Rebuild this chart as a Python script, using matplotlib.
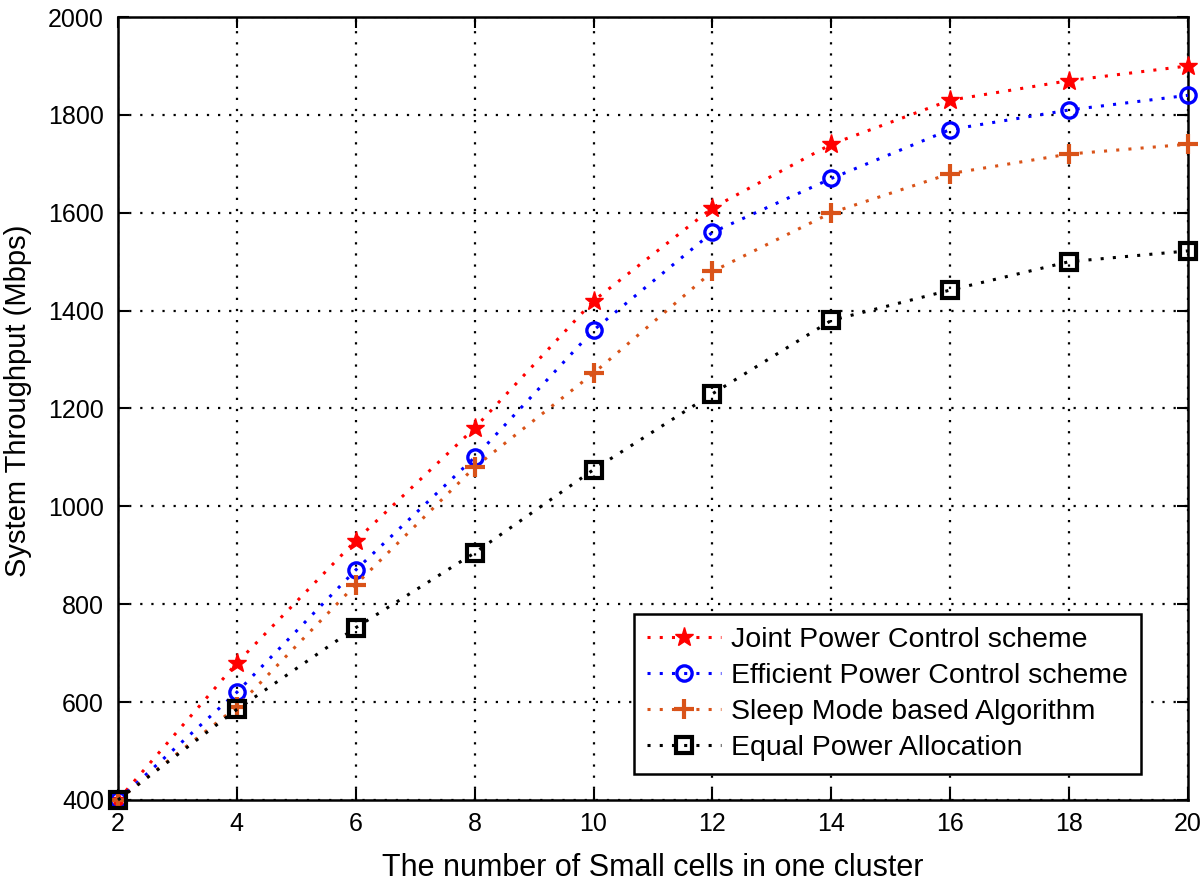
import matplotlib
matplotlib.use("Agg")
import matplotlib.pyplot as plt

x = [2, 4, 6, 8, 10, 12, 14, 16, 18, 20]
joint = [400, 680, 930, 1160, 1420, 1610, 1740, 1830, 1870, 1900]
efficient = [400, 620, 870, 1100, 1360, 1560, 1670, 1770, 1810, 1840]
sleep = [400, 590, 840, 1080, 1272, 1480, 1600, 1680, 1720, 1740]
equal = [400, 585, 752, 905, 1075, 1230, 1380, 1442, 1500, 1522]

labels = ["Joint Power Control scheme", "Efficient Power Control scheme",
          "Sleep Mode based Algorithm", "Equal Power Allocation"]
xticks = [2, 4, 6, 8, 10, 12, 14, 16, 18, 20]
yticks = [400, 600, 800, 1000, 1200, 1400, 1600, 1800, 2000]

plt.rcParams['font.family'] = ['Liberation Sans', 'DejaVu Sans']

fig = plt.figure(figsize=(12, 8.81), dpi=100)
ax = fig.add_axes([0.0983, 0.092, 0.8917, 0.8887])

dot = (0, (1, 3))
ax.plot(x, joint, linestyle=dot, color='#ff0000', marker='*', markersize=14, lw=2.2,
        clip_on=False, zorder=5, label=labels[0])
ax.plot(x, efficient, linestyle=dot, color='#0000ff', marker='o', markersize=11, mfc='none',
        mew=2.4, lw=2.2, clip_on=False, zorder=5, label=labels[1])
ax.plot(x, sleep, linestyle=dot, color='#d95319', marker='+', markersize=15, mew=3.0, lw=2.2,
        clip_on=False, zorder=5, label=labels[2])
ax.plot(x, equal, linestyle=dot, color='black', marker='s', markersize=11, mfc='none', mew=3.0,
        lw=2.2, clip_on=False, zorder=5, label=labels[3])

ax.set_xlim(2, 20)
ax.set_ylim(400, 2000)
ax.set_xticks(xticks)
ax.set_yticks(yticks)
ax.grid(True, color='black', linestyle=(0, (1, 4)), lw=1.6)
ax.tick_params(direction='in', length=8, width=1.5, labelsize=18, top=True, right=True)
ax.tick_params(axis='x', pad=9)
ax.tick_params(axis='y', pad=10)
for s in ax.spines.values():
    s.set_linewidth(1.8)

ax.set_xlabel("The number of Small cells in one cluster", fontsize=22, labelpad=12)
ax.set_ylabel("System Throughput (Mbps)", fontsize=21)
ax.yaxis.set_label_coords(-0.080, 0.51)

leg = ax.legend(loc='lower right', bbox_to_anchor=(0.956, 0.033), borderaxespad=0,
                fontsize=20.5, frameon=True, fancybox=False, edgecolor='black',
                framealpha=1, handlelength=2.6, handletextpad=0.35,
                labelspacing=0.36, borderpad=0.45)
leg.get_frame().set_linewidth(1.8)

fig.savefig("out.png", dpi=100)
